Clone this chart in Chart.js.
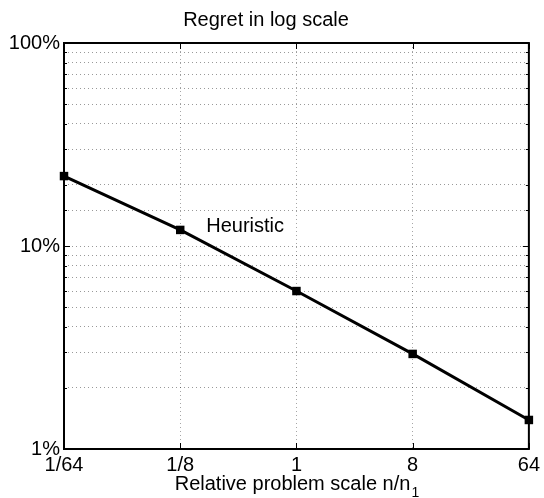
<!DOCTYPE html>
<html>
<head>
<meta charset="utf-8">
<script src="https://cdn.jsdelivr.net/npm/chart.js@4"></script>
<style>
  html, body { margin: 0; padding: 0; background: #fff; }
  #wrap { width: 544px; height: 498px; }
</style>
</head>
<body>
<div id="wrap"><canvas id="chart"></canvas></div>
<script>
const scaleLabels = ['1/64', '1/8', '1', '8', '64'];
const regret = [22.1, 12.0, 6.0, 2.94, 1.39];   // percent
const yTickLabels = [1, 10, 100];
const seriesName = 'Heuristic';

const FONT = 'Liberation Sans, Arial, Helvetica, sans-serif';

// box around plot, small inner ticks, line label and x-axis title with subscript
const extras = {
  id: 'extras',
  afterDraw(chart) {
    const { ctx, chartArea: a, scales: { x, y } } = chart;
    ctx.save();
    ctx.strokeStyle = '#000';
    ctx.lineWidth = 2;
    ctx.strokeRect(a.left, a.top, a.right - a.left, a.bottom - a.top);

    // inner ticks
    ctx.lineWidth = 1;
    y.ticks.forEach(t => {
      const py = Math.round(y.getPixelForValue(t.value)) + 0.5;
      const len = yTickLabels.includes(t.value) ? 6 : 3;
      ctx.beginPath();
      ctx.moveTo(a.left, py); ctx.lineTo(a.left + len, py);
      ctx.moveTo(a.right, py); ctx.lineTo(a.right - len, py);
      ctx.stroke();
    });
    scaleLabels.forEach((_, i) => {
      const px = Math.round(x.getPixelForValue(i)) + 0.5;
      ctx.beginPath();
      ctx.moveTo(px, a.bottom); ctx.lineTo(px, a.bottom - 6);
      ctx.moveTo(px, a.top); ctx.lineTo(px, a.top + 6);
      ctx.stroke();
    });

    // series label next to second point
    ctx.fillStyle = '#000';
    ctx.font = '20px ' + FONT;
    ctx.textAlign = 'left';
    ctx.textBaseline = 'middle';
    ctx.fillText(seriesName, x.getPixelForValue(1) + 26, y.getPixelForValue(regret[1]) - 3);

    // x axis title
    const main = 'Relative problem scale n/n';
    const w = ctx.measureText(main).width;
    ctx.font = '14px ' + FONT;
    const ws = ctx.measureText('1').width;
    const cx = (a.left + a.right) / 2;
    const startX = cx - (w + ws) / 2;
    ctx.textBaseline = 'alphabetic';
    ctx.font = '20px ' + FONT;
    ctx.fillText(main, startX, 490);
    ctx.font = '14px ' + FONT;
    ctx.fillText('1', startX + w + 1, 497);
    ctx.restore();
  }
};

new Chart(document.getElementById('chart'), {
  type: 'line',
  data: {
    labels: scaleLabels,
    datasets: [{
      label: seriesName,
      data: regret,
      borderColor: '#000',
      backgroundColor: '#000',
      borderWidth: 3,
      pointStyle: 'rect',
      pointRadius: 6,
      pointBorderWidth: 0,
      tension: 0
    }]
  },
  options: {
    responsive: true,
    maintainAspectRatio: false,
    animation: false,
    layout: { padding: { left: 0, right: 12, top: 0, bottom: 0 } },
    plugins: {
      legend: { display: false },
      tooltip: { enabled: false },
      title: {
        display: true,
        text: 'Regret in log scale',
        color: '#000',
        font: { family: FONT, size: 20, weight: 'normal' },
        padding: { top: 8, bottom: 11 }
      }
    },
    scales: {
      x: {
        type: 'category',
        offset: false,
        border: { display: false, dash: [1, 3] },
        grid: {
          color: 'rgba(0,0,0,0.35)',
          drawTicks: false
        },
        ticks: {
          color: '#000',
          font: { family: FONT, size: 20 },
          padding: 4,
          autoSkip: false,
          maxRotation: 0
        },
        afterFit(scale) { scale.height = 49; }
      },
      y: {
        type: 'logarithmic',
        min: 1,
        max: 100,
        border: { display: false, dash: [1, 3] },
        grid: {
          color: 'rgba(0,0,0,0.4)',
          drawTicks: false
        },
        ticks: {
          color: '#000',
          font: { family: FONT, size: 20 },
          padding: 4,
          autoSkip: false,
          callback: v => yTickLabels.includes(v) ? v + '%' : ''
        },
        afterFit(scale) { scale.width = 64; }
      }
    }
  },
  plugins: [extras]
});
</script>
</body>
</html>
